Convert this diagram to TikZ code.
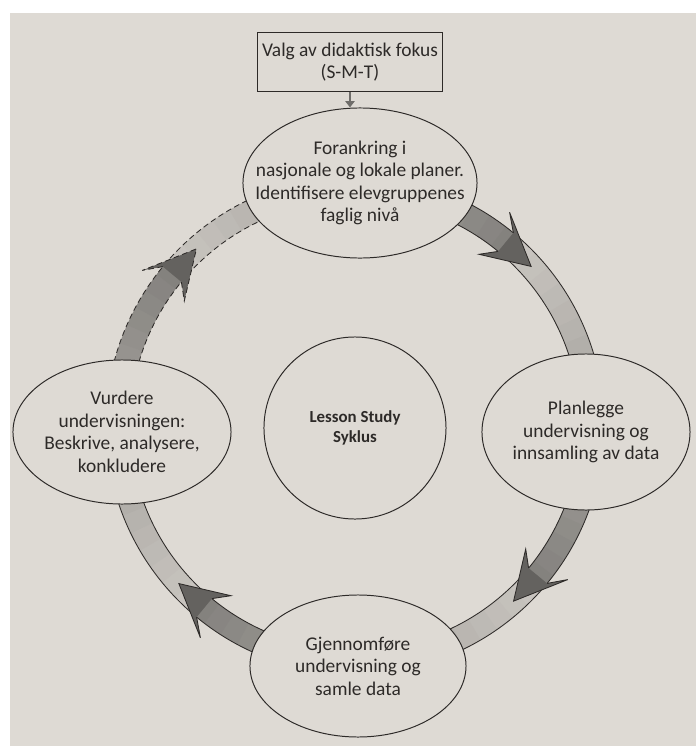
\documentclass[tikz,border=0pt]{standalone}
\usepackage{fontspec}
\setmainfont{Carlito}
\usetikzlibrary{shapes.geometric,arrows.meta,positioning}

\definecolor{page}{RGB}{222,218,212}
\definecolor{ink}{RGB}{45,42,40}

\begin{document}
\begin{tikzpicture}[x=0.025cm, y=0.025cm,
    every node/.style={font=\fontsize{13.8}{16}\selectfont, text=ink},
    stage/.style={ellipse, draw=ink, line width=0.7pt, fill=page, inner sep=0pt},
    stagetext/.style={align=center},
    ringline/.style={draw=ink, line width=0.6pt},
    ringdash/.style={dash pattern=on 4pt off 2.5pt},
    headfill/.style={fill=black!55!page},
    headline/.style={draw=ink, line width=0.6pt, line join=miter},
    feed/.style={draw=black!50!page, line width=1.8pt, -{Triangle[width=6.5pt,length=4.5pt]}}]
  % page
  \fill[white] (-355,-321) rectangle (341,425);
  \fill[page] (-345,-321) rectangle (341,412);

  % ring, shaded from one head to the next
  \foreach \t in {42,-48,-138,-228} {
    \foreach \i in {0,...,19} {
      \pgfmathsetmacro\slicea{\t+96-4.5*\i+0.3}
      \pgfmathsetmacro\sliceb{\t+96-4.5*(\i+1)}
      \pgfmathsetmacro\tone{10+1.6*\i}
      \fill[black!\tone!page] (\slicea:225) arc[start angle=\slicea, end angle=\sliceb, radius=225]
        -- (\sliceb:249) arc[start angle=\sliceb, end angle=\slicea, radius=249] -- cycle;
    }
  }
  \foreach \r in {225,249} {
    \draw[ringline] (90:\r) arc[start angle=90, end angle=-180, radius=\r];
    \draw[ringline, ringdash] (180:\r) arc[start angle=180, end angle=90, radius=\r];
  }

  % arrow heads, barbs swept back
  \foreach \t/\pat in {42/solid,-48/solid,-138/solid,132/ringdash} {
    \fill[headfill] ({\t+8.5}:249) -- ({\t+12}:263) -- (\t:237) -- ({\t+12}:211)
      -- ({\t+8.5}:225) -- cycle;
    \draw[headline, \pat] ({\t+8.5}:249) -- ({\t+12}:263) -- (\t:237) -- ({\t+12}:211)
      -- ({\t+8.5}:225);
  }

  % stages
  \node[stage, minimum width=5.85cm, minimum height=3.75cm,
    label={[stagetext, name=aimtext]center:{Forankring i\\nasjonale og lokale planer.\\Identifisere elevgruppenes\\faglig nivå}}] (aim) at (5,242) {};
  \node[stage, minimum width=5.2cm, minimum height=3.9cm,
    label={[stagetext, name=plantext]center:{Planlegge\\undervisning og\\innsamling av data}}] (plan) at (231,-7) {};
  \node[stage, minimum width=5.4cm, minimum height=3.55cm,
    label={[stagetext, name=teachtext]center:{Gjennomføre\\undervisning og\\samle data}}] (teach) at (3,-241) {};
  \node[stage, minimum width=5.45cm, minimum height=3.6cm,
    label={[stagetext, name=reviewtext]center:{Vurdere\\undervisningen:\\Beskrive, analysere,\\konkludere}}] (review) at (-233,-7) {};
  \node[circle, draw=ink, line width=0.7pt, fill=page, minimum size=4.55cm, align=center,
    font=\bfseries\fontsize{12}{14.5}\selectfont] (cycle) at (0,-3) {Lesson Study\\Syklus};

  % focus box
  \node[draw=ink, line width=0.7pt, fill=page, minimum width=4.62cm, minimum height=1.48cm,
    align=center, inner sep=2pt] (focus) at (-5,363) {Valg av didaktisk fokus\\(S-M-T)};
  \draw[feed] (focus.south) -- (focus.south |- aim.north);
\end{tikzpicture}
\end{document}
